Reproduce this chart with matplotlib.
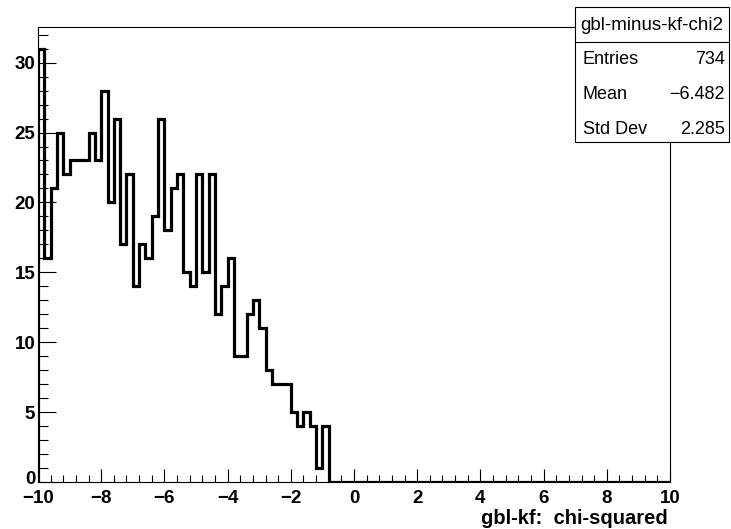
"""
gbl minus kf chi2 histogram, ROOT style
"""
import numpy as np
import matplotlib
matplotlib.use("Agg")
import matplotlib.pyplot as plt
import matplotlib.transforms as mtransforms
from matplotlib.patches import Rectangle
from matplotlib.ticker import MultipleLocator

plt.rcParams['font.family'] = ['Liberation Sans', 'DejaVu Sans']

# histogram: 100 bins from -10 to 10, counts
x_min = -10
x_max = 10
n_bins = 100
counts_nonzero = [31, 16, 21, 25, 22, 23, 23, 23, 25, 23,
                  28, 20, 26, 17, 22, 14, 17, 16, 19, 26,
                  18, 21, 22, 15, 14, 22, 15, 22, 12, 14,
                  16, 9, 9, 12, 13, 11, 8, 7, 7, 7,
                  5, 4, 5, 4, 1, 4]
counts = counts_nonzero + [0] * (n_bins - len(counts_nonzero))
edges = np.linspace(x_min, x_max, n_bins + 1)

hist_name = "gbl-minus-kf-chi2"
stat_labels = ["Entries", "Mean", "Std Dev"]
stat_values = ["734", "\u22126.482", "2.285"]
x_title = "gbl-kf:  chi-squared"

fig = plt.figure(figsize=(7.31, 5.29), dpi=100)
ax = fig.add_axes([38/731, 1-482/529, (670-38)/731, (482-27)/529])

ax.stairs(counts, edges, color='black', linewidth=2.3)
ax.set_xlim(x_min, x_max)
ax.set_ylim(0, 1.05*max(counts))

ax.xaxis.set_major_locator(MultipleLocator(2))
ax.xaxis.set_minor_locator(MultipleLocator(0.4))
ax.yaxis.set_major_locator(MultipleLocator(5))
ax.yaxis.set_minor_locator(MultipleLocator(1))
ax.tick_params(axis='x', which='major', direction='in', length=9.4, width=0.8, pad=5.5,
               labelsize=13.5, top=False)
ax.tick_params(axis='x', which='minor', direction='in', length=5, width=0.8, top=False)
ax.tick_params(axis='y', which='major', direction='in', length=13, width=0.8, pad=2,
               labelsize=13.5, right=False)
ax.tick_params(axis='y', which='minor', direction='in', length=7, width=0.8, right=False)
for lab in ax.get_xticklabels() + ax.get_yticklabels():
    lab.set_fontweight('bold')
for s in ax.spines.values():
    s.set_linewidth(0.8)

# nudge the y "0" up a little so it clears the "-10" below it
fig.canvas.draw()
for t in ax.yaxis.get_major_ticks():
    if abs(t.get_loc()) < 1e-9:
        t.label1.set_transform(t.label1.get_transform() +
                               mtransforms.ScaledTranslation(0, 4/100, fig.dpi_scale_trans))

fig.text(668/731, 1-518/529, x_title, ha='right', va='center',
         fontsize=14.5, fontweight='bold')

# stats box
bx0, bx1 = 575/731, 729/731
by0, by1 = 1-142/529, 1-7/529
fig.patches.append(Rectangle((bx0, by0), bx1-bx0, by1-by0, transform=fig.transFigure,
                             facecolor='white', edgecolor='black', linewidth=0.8, zorder=5))
fig.lines.append(plt.Line2D([bx0, bx1], [1-42/529, 1-42/529], transform=fig.transFigure,
                            color='black', linewidth=0.8, zorder=6))
fig.text((bx0+bx1)/2, 1-25/529, hist_name, ha='center', va='center', fontsize=13.5, zorder=7)
row_y = [60, 95, 129]
for lab, val, yy in zip(stat_labels, stat_values, row_y):
    fig.text(583/731, 1-yy/529, lab, ha='left', va='center', fontsize=13, zorder=7)
    fig.text(725/731, 1-yy/529, val, ha='right', va='center', fontsize=13, zorder=7)

plt.savefig("out.png", dpi=100)
